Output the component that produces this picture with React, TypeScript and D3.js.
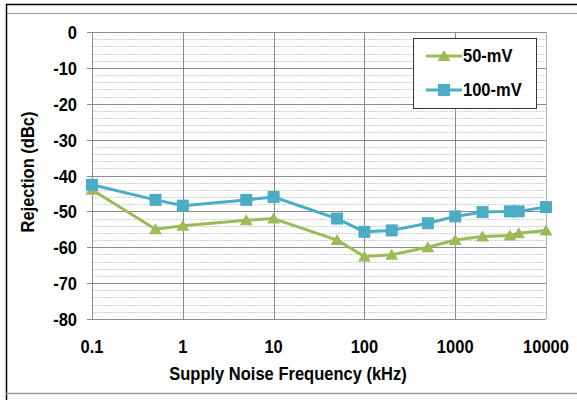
import React from "react";
import * as d3 from "d3";

// frequency in kHz
const freqs = [0.1, 0.5, 1, 5, 10, 50, 100, 200, 500, 1000, 2000, 4000, 5000, 10000];
const mv50 = [-44, -55, -54, -52.5, -52, -58, -62.6, -62.1, -60, -58, -57, -56.7, -56.1, -55.3];
const mv100 = [-42.6, -46.8, -48.4, -46.8, -46, -52, -55.7, -55.3, -53.3, -51.4, -50.2, -50, -50, -48.8];
const xTicks = [0.1, 1, 10, 100, 1000, 10000];
const xTickLabels = ["0.1", "1", "10", "100", "1000", "10000"];
const yTicks = [0, -10, -20, -30, -40, -50, -60, -70, -80];
const seriesNames = ["50-mV", "100-mV"];

const GREEN = "#9bbb59";
const BLUE = "#4bacc6";
const font = "'Liberation Sans', Arial, sans-serif";

// the source picture has a slightly stretched bold font, mimic that with a scale
function T(props: { x: number; y: number; anchor?: string; rotate?: boolean; children: any }) {
  const rot = props.rotate ? " rotate(-90)" : "";
  return (
    <text transform={`translate(${props.x},${props.y})${rot} scale(1.1,1.18)`}
      textAnchor={props.anchor || "start"} fontFamily={font} fontWeight="bold" fontSize={15} fill="#000">
      {props.children}
    </text>
  );
}

export default function App() {
  const W = 577, H = 400;
  const x = d3.scaleLog().domain([0.1, 10000]).range([92, 546]);
  const y = d3.scaleLinear().domain([-80, 0]).range([319, 32]);

  const line = d3.line<number>().x((_, i) => x(freqs[i])).y(d => y(d));

  const minor = d3.range(-78, 0, 2).filter(v => v % 10 !== 0);

  const tri = (cx: number, cy: number) =>
    `M${cx},${cy - 6}L${cx + 6.5},${cy + 5}L${cx - 6.5},${cy + 5}Z`;

  return (
    <svg width={W} height={H} style={{ position: "absolute", left: 0, top: 0 }}>
      <rect x={0} y={0} width={W} height={H} fill="#fff" />
      {/* outer frame */}
      <line x1={6} x2={W} y1={4.5} y2={4.5} stroke="#000" strokeWidth={1.5} />
      <line x1={6} x2={W} y1={13.5} y2={13.5} stroke="#999" />
      <line x1={6.5} x2={6.5} y1={4} y2={H} stroke="#000" strokeWidth={1.5} />
      <line x1={6} x2={W} y1={393.5} y2={393.5} stroke="#999" strokeWidth={1.5} />

      {/* minor gridlines */}
      {minor.map(v => (
        <line key={"m" + v} x1={x(0.1)} x2={x(10000)} y1={Math.round(y(v)) + 0.5} y2={Math.round(y(v)) + 0.5}
          stroke="#cfcfcf" strokeDasharray="2,1" />
      ))}
      {/* vertical gridlines */}
      {xTicks.map(t => (
        <line key={"v" + t} x1={Math.round(x(t)) + 0.5} x2={Math.round(x(t)) + 0.5} y1={y(0)} y2={y(-80)}
          stroke={t === 10000 ? "#b0b0b0" : "#8c8c8c"} />
      ))}
      {/* major horizontal gridlines */}
      {yTicks.map(t => (
        <line key={"h" + t} x1={87} x2={x(10000)} y1={Math.round(y(t)) + 0.5} y2={Math.round(y(t)) + 0.5}
          stroke="#8c8c8c" />
      ))}

      {/* y tick labels */}
      {yTicks.map(t => (
        <T key={"yl" + t} x={77} y={y(t) + 7} anchor="end">{t}</T>
      ))}
      {/* x tick labels */}
      {xTicks.map((t, i) => (
        <T key={"xl" + t} x={x(t)} y={353} anchor="middle">{xTickLabels[i]}</T>
      ))}

      <T x={288} y={380} anchor="middle">Supply Noise Frequency (kHz)</T>
      <T x={34} y={172} anchor="middle" rotate>Rejection (dBc)</T>

      {/* series */}
      <path d={line(mv50) ?? ""} fill="none" stroke={GREEN} strokeWidth={3} strokeLinejoin="round" />
      {mv50.map((v, i) => (
        <path key={"g" + i} d={tri(x(freqs[i]), y(v))} fill={GREEN} />
      ))}
      <path d={line(mv100) ?? ""} fill="none" stroke={BLUE} strokeWidth={3} strokeLinejoin="round" />
      {mv100.map((v, i) => (
        <rect key={"b" + i} x={x(freqs[i]) - 6} y={y(v) - 6} width={12} height={12} fill={BLUE} />
      ))}

      {/* legend */}
      <rect x={413.5} y={38.5} width={123} height={70} fill="#fff" stroke="#333" />
      <line x1={426} x2={462} y1={56} y2={56} stroke={GREEN} strokeWidth={3} />
      <path d={tri(444, 56)} fill={GREEN} />
      <T x={463} y={62}>{seriesNames[0]}</T>
      <line x1={426} x2={462} y1={90} y2={90} stroke={BLUE} strokeWidth={3} />
      <rect x={438} y={84} width={12} height={12} fill={BLUE} />
      <T x={463} y={96}>{seriesNames[1]}</T>
    </svg>
  );
}
